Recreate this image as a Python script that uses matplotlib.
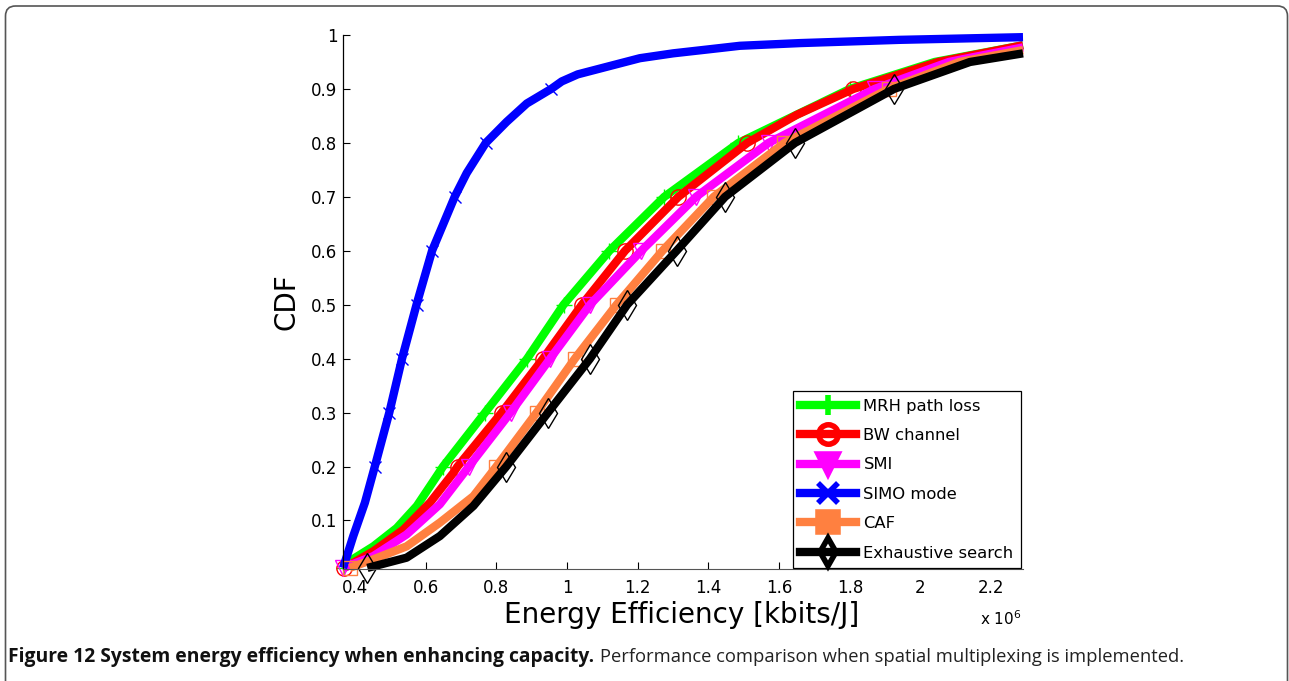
import matplotlib
matplotlib.use("Agg")
import matplotlib.pyplot as plt
from matplotlib.lines import Line2D
from matplotlib.patches import FancyBboxPatch
from matplotlib.transforms import IdentityTransform

plt.rcParams["font.family"] = ["DejaVu Sans"]
plt.rcParams["mathtext.fontset"] = "dejavusans"

# values (energy efficiency in units of 1e6 kbits/J)
mrh_x = [0.370, 0.386, 0.452, 0.518, 0.575, 0.631, 0.649, 0.768, 0.887, 0.990, 1.120, 1.275, 1.485, 1.800, 2.040, 2.29]
mrh_y = [0.012, 0.025, 0.052, 0.086, 0.127, 0.182, 0.2, 0.3, 0.4, 0.5, 0.6, 0.7, 0.8, 0.9, 0.95, 0.981]

bw_x = [0.370, 0.452, 0.537, 0.612, 0.678, 0.690, 0.815, 0.932, 1.042, 1.164, 1.315, 1.510, 1.650, 1.810, 2.050, 2.29]
bw_y = [0.012, 0.043, 0.083, 0.133, 0.188, 0.2, 0.3, 0.4, 0.5, 0.6, 0.7, 0.8, 0.852, 0.9, 0.95, 0.981]

smi_x = [0.366, 0.452, 0.546, 0.640, 0.722, 0.840, 0.952, 1.065, 1.210, 1.365, 1.570, 1.870, 2.080, 2.29]
smi_y = [0.012, 0.034, 0.074, 0.130, 0.2, 0.3, 0.4, 0.5, 0.6, 0.7, 0.8, 0.9, 0.95, 0.977]

simo_x = [0.366, 0.380, 0.395, 0.428, 0.456, 0.497, 0.533, 0.574, 0.618, 0.682, 0.716, 0.770,
          0.829, 0.886, 0.955, 0.985, 1.030, 1.112, 1.206, 1.300, 1.395, 1.489, 1.659, 1.940, 2.29]
simo_y = [0.012, 0.040, 0.071, 0.133, 0.2, 0.3, 0.4, 0.5, 0.6, 0.7, 0.744, 0.8,
          0.839, 0.873, 0.9, 0.914, 0.927, 0.941, 0.957, 0.966, 0.973, 0.980, 0.985, 0.991, 0.996]

caf_x = [0.385, 0.452, 0.546, 0.640, 0.735, 0.800, 0.914, 1.022, 1.140, 1.270, 1.415, 1.615, 1.910, 2.110, 2.29]
caf_y = [0.012, 0.028, 0.052, 0.096, 0.145, 0.2, 0.3, 0.4, 0.5, 0.6, 0.7, 0.8, 0.9, 0.95, 0.972]

exh_x = [0.435, 0.546, 0.640, 0.735, 0.828, 0.946, 1.065, 1.170, 1.310, 1.447, 1.645, 1.925, 2.140, 2.29]
exh_y = [0.012, 0.031, 0.071, 0.127, 0.2, 0.3, 0.4, 0.5, 0.6, 0.7, 0.8, 0.9, 0.95, 0.966]

x_ticks = [0.4, 0.6, 0.8, 1.0, 1.2, 1.4, 1.6, 1.8, 2.0, 2.2]
x_tick_labels = ["0.4", "0.6", "0.8", "1", "1.2", "1.4", "1.6", "1.8", "2", "2.2"]
y_ticks = [0.1, 0.2, 0.3, 0.4, 0.5, 0.6, 0.7, 0.8, 0.9, 1.0]
y_tick_labels = ["0.1", "0.2", "0.3", "0.4", "0.5", "0.6", "0.7", "0.8", "0.9", "1"]

# name, x, y, colour, marker, size, indices that carry a marker
series = [
    ("MRH path loss", mrh_x, mrh_y, "#00ff00", "+", 12, [0, 6, 7, 8, 9, 10, 11, 12, 13]),
    ("BW channel", bw_x, bw_y, "#ff0000", "o", 11, [0, 5, 6, 7, 8, 9, 10, 11, 13]),
    ("SMI", smi_x, smi_y, "#ff00ff", "v", 12, [0, 4, 5, 6, 7, 8, 9, 10, 11]),
    ("SIMO mode", simo_x, simo_y, "#0000ff", "x", 9, [4, 5, 6, 7, 8, 9, 11, 14]),
    ("CAF", caf_x, caf_y, "#ff8040", "s", 10, [0, 5, 6, 7, 8, 9, 10, 11, 12]),
    ("Exhaustive search", exh_x, exh_y, "#000000", "d", 15, [0, 4, 5, 6, 7, 8, 9, 10, 11]),
]

W, H = 1289, 681
fig = plt.figure(figsize=(W / 100, H / 100), dpi=100)
ax = fig.add_axes([343 / W, 1 - 569 / H, (1023 - 343) / W, (569 - 35) / H])

handles = []
for name, xs, ys, color, marker, ms, marks in series:
    ax.plot(xs, ys, color=color, lw=6, marker=marker, ms=ms, mfc="none",
            mec=color, mew=1, markevery=marks, clip_on=False,
            solid_capstyle="butt", solid_joinstyle="round")
    handles.append(Line2D([], [], color=color, lw=6, marker=marker, ms=14,
                          mfc=color if marker in ("v", "s") else "none",
                          mec=color, mew=4, label=name))

ax.set_xlim(0.366, 2.29)
ax.set_ylim(0.01, 1.0)
ax.set_xticks(x_ticks)
ax.set_xticklabels(x_tick_labels)
ax.set_yticks(y_ticks)
ax.set_yticklabels(y_tick_labels)
ax.tick_params(direction="in", length=5, width=0.8, labelsize=12, colors="black")
ax.tick_params(axis="x", pad=7)
ax.tick_params(axis="y", pad=4)
ax.spines["top"].set_visible(False)
ax.spines["right"].set_visible(False)
ax.spines["bottom"].set_color("#555555")
ax.spines["left"].set_linewidth(0.9)

leg = ax.legend(handles=handles, loc="lower right", bbox_to_anchor=(1021 / W, 1 - 568 / H),
                bbox_transform=fig.transFigure, borderaxespad=0, fontsize=11.8,
                handlelength=3.4, handletextpad=0.45, labelspacing=0.88,
                borderpad=0.45, fancybox=False, framealpha=1)
leg.get_frame().set_edgecolor("black")
leg.get_frame().set_linewidth(0.9)

fig.text(287 / W, 1 - 302 / H, "CDF", rotation=90, ha="center", va="center", fontsize=20)
fig.text(682 / W, 1 - 615 / H, "Energy Efficiency [kbits/J]", ha="center", va="center", fontsize=20)
fig.text(980 / W, 1 - 619 / H, r"x 10$^{6}$", ha="left", va="center", fontsize=11)

# caption: bold part then regular part
cap_y = 1 - 657 / H
bold = fig.text(8 / W, cap_y, "Figure 12 System energy efficiency when enhancing capacity.",
                ha="left", va="center", fontsize=13.85, fontweight="bold",
                family=["Open Sans", "DejaVu Sans"], color="#111111")
fig.canvas.draw()
bb = bold.get_window_extent()
fig.text((bb.x1 + 6) / W, cap_y,
         "Performance comparison when spatial multiplexing is implemented.",
         ha="left", va="center", fontsize=13.2, family=["Open Sans", "DejaVu Sans"],
         color="#222222")

border = FancyBboxPatch((5.5, -40), 1282, 40 + 675, boxstyle="round,pad=0,rounding_size=10",
                        transform=IdentityTransform(), fill=False, edgecolor="#555555", lw=1.2)
fig.add_artist(border)

fig.savefig("out.png", dpi=100)
